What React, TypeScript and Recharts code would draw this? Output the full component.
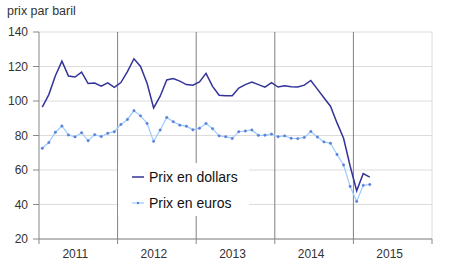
import React from "react";
import {
  LineChart,
  Line,
  XAxis,
  YAxis,
  CartesianGrid,
  ReferenceLine,
} from "recharts";

// monthly prices, Jan 2011 -> Mar 2015
const dollars = [
  96.5, 103.7, 114.6, 123.1, 114.5, 113.9, 116.7, 110.1, 110.4, 108.6, 110.5, 107.9,
  110.7, 117.0, 124.5, 120.0, 110.3, 96.0, 102.8, 112.2, 113.0, 111.5, 109.5, 109.2,
  111.0, 116.0, 108.5, 103.3, 103.0, 103.1, 107.5, 109.5, 111.0, 109.5, 108.0, 110.7,
  108.1, 108.9, 108.3, 108.1, 109.2, 111.9, 106.9, 101.9, 97.0, 87.3, 78.4, 62.3,
  48.0, 57.9, 55.9,
];
const euros = [
  72.6, 75.9, 81.9, 85.5, 80.3, 79.2, 81.6, 77.0, 80.5, 79.4, 81.3, 82.2,
  86.4, 89.3, 94.4, 91.4, 87.0, 76.6, 83.2, 90.5, 88.0, 86.0, 85.4, 83.3,
  84.2, 87.0, 84.0, 79.8, 79.3, 78.3, 82.2, 82.6, 83.2, 80.1, 80.2, 80.8,
  79.3, 79.8, 78.4, 78.2, 78.9, 82.3, 79.1, 76.3, 75.5, 69.0, 62.9, 50.5,
  41.8, 51.1, 51.6,
];
const years = ["2011", "2012", "2013", "2014", "2015"];
const yTicks = [20, 40, 60, 80, 100, 120, 140];
const yearBounds = [0, 12, 24, 36, 48, 60];

const data = dollars.map((d, i) => ({ m: i + 0.5, dollars: d, euros: euros[i] }));

const FONT = "Arial, 'Liberation Sans', sans-serif";
const monthPx = (432 - 39) / 60;

function YearTick(props: any) {
  const { x, payload } = props;
  const idx = yearBounds.indexOf(payload.value);
  if (idx < 0 || idx >= years.length) return null;
  return (
    <text
      x={x + monthPx * 6 - 3}
      y={258}
      textAnchor="middle"
      fill="#333"
      fontSize={12}
      fontFamily={FONT}
    >
      {years[idx]}
    </text>
  );
}

export default function App() {
  return (
    <div style={{ position: "absolute", left: 0, top: 0, width: 450, height: 279, background: "#fff" }}>
      <div
        style={{
          position: "absolute",
          left: 7,
          top: 4,
          fontFamily: FONT,
          fontSize: 12.5,
          color: "#333",
        }}
      >
        prix par baril
      </div>
      <LineChart
        width={450}
        height={279}
        data={data}
        margin={{ top: 32, right: 18, bottom: 10, left: 0 }}
      >
        <CartesianGrid horizontal vertical={false} stroke="#dcdcdc" />
        <XAxis
          type="number"
          dataKey="m"
          domain={[0, 60]}
          ticks={yearBounds}
          interval={0}
          height={30}
          axisLine={{ stroke: "#888" }}
          tickLine={{ stroke: "#888" }}
          tickSize={5}
          tick={<YearTick />}
        />
        <YAxis
          domain={[20, 140]}
          ticks={yTicks}
          width={39}
          axisLine={{ stroke: "#888" }}
          tickLine={{ stroke: "#888" }}
          tickSize={6}
          tickMargin={5}
          tick={{ fill: "#333", fontSize: 12, fontFamily: FONT }}
        />
        <ReferenceLine x={60} stroke="#dcdcdc" />
        {yearBounds.slice(1, 5).map((b) => (
          <ReferenceLine key={b} x={b} stroke="#808080" />
        ))}
        <Line
          dataKey="dollars"
          name="Prix en dollars"
          stroke="#333399"
          strokeWidth={1.5}
          dot={false}
          isAnimationActive={false}
        />
        <Line
          dataKey="euros"
          name="Prix en euros"
          stroke="#99ccff"
          strokeWidth={1.2}
          dot={{ r: 1.2, fill: "#5b7fd8", stroke: "#5b7fd8", strokeWidth: 0.5 }}
          isAnimationActive={false}
        />
      </LineChart>
      <svg
        width={131}
        height={53}
        style={{ position: "absolute", left: 118, top: 163, background: "#fff" }}
      >
        <line x1={14} x2={26} y1={14} y2={14} stroke="#333399" strokeWidth={1.5} />
        <text x={31} y={19} fontSize={14} fontFamily={FONT} fill="#111">
          Prix en dollars
        </text>
        <line x1={14} x2={26} y1={40} y2={40} stroke="#99ccff" strokeWidth={1.2} />
        <circle cx={20} cy={40} r={1.2} fill="#5b7fd8" />
        <text x={31} y={45} fontSize={14} fontFamily={FONT} fill="#111">
          Prix en euros
        </text>
      </svg>
    </div>
  );
}
